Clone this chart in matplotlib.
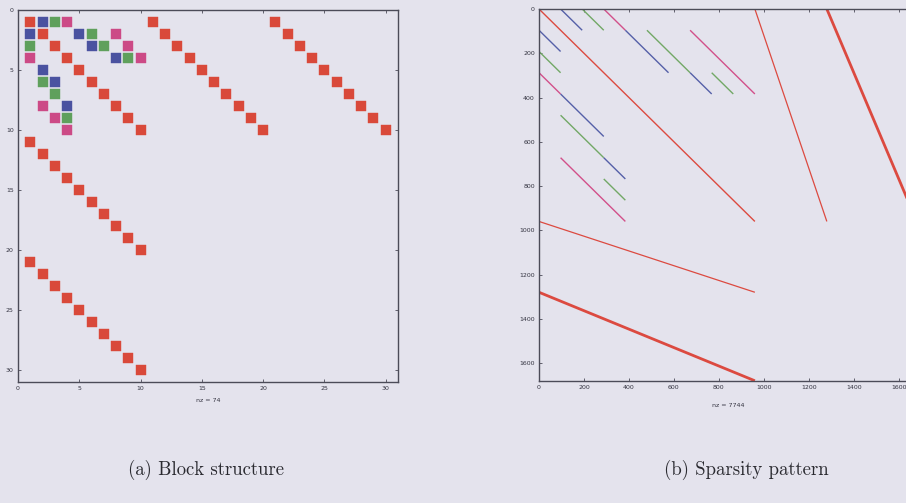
import matplotlib
matplotlib.use("Agg")
import matplotlib.pyplot as plt

# ---- (a) block structure of a 30x30 matrix: (row, col) of each nonzero block ----
red_rows = [1, 2, 3, 4, 5, 6, 7, 8, 9, 10,
            1, 2, 3, 4, 5, 6, 7, 8, 9, 10,
            1, 2, 3, 4, 5, 6, 7, 8, 9, 10,
            11, 12, 13, 14, 15, 16, 17, 18, 19, 20,
            21, 22, 23, 24, 25, 26, 27, 28, 29, 30]
red_cols = [1, 2, 3, 4, 5, 6, 7, 8, 9, 10,
            11, 12, 13, 14, 15, 16, 17, 18, 19, 20,
            21, 22, 23, 24, 25, 26, 27, 28, 29, 30,
            1, 2, 3, 4, 5, 6, 7, 8, 9, 10,
            1, 2, 3, 4, 5, 6, 7, 8, 9, 10]
blue_rows = [1, 2, 2, 5, 3, 6, 4, 8]
blue_cols = [2, 1, 5, 2, 6, 3, 8, 4]
green_rows = [1, 3, 2, 6, 3, 7, 4, 9]
green_cols = [3, 1, 6, 2, 7, 3, 9, 4]
pink_rows = [1, 4, 2, 8, 3, 9, 4, 10]
pink_cols = [4, 1, 8, 2, 9, 3, 10, 4]
nz_small = 74
n_small = 30

# ---- (b) sparsity pattern of the assembled 1680x1680 matrix ----
# each diagonal band: start row, start col, end row, end col
band_color = ["red", "blue", "green", "pink", "blue", "green", "blue", "green", "pink",
              "blue", "green", "pink", "blue", "green", "blue", "green", "pink",
              "red", "red", "red", "red"]
band_r0 = [0, 0, 0, 0, 96, 96, 288, 288, 96,
           96, 192, 288, 384, 480, 672, 768, 672,
           960, 1280, 0, 0]
band_c0 = [0, 96, 192, 288, 384, 480, 672, 768, 672,
           0, 0, 0, 96, 96, 288, 288, 96,
           0, 0, 960, 1280]
band_r1 = [960, 96, 96, 96, 288, 288, 384, 384, 384,
           192, 288, 384, 576, 672, 768, 864, 960,
           1280, 1680, 960, 960]
band_c1 = [960, 192, 288, 384, 576, 672, 768, 864, 960,
           96, 96, 96, 288, 288, 384, 384, 384,
           960, 960, 1280, 1680]
band_width = [1.0, 1.0, 1.0, 1.0, 1.0, 1.0, 1.0, 1.0, 1.0,
              1.0, 1.0, 1.0, 1.0, 1.0, 1.0, 1.0, 1.0,
              0.9, 2.0, 0.9, 2.0]
nz_large = 7744
n_large = 1680

bg = "#e4e3ed"
spine_c = "#4b4b58"
colors = {"red": "#d9493a", "blue": "#4a52a0", "green": "#5fa05c", "pink": "#cc4a86"}
line_colors = {"red": "#dc4a40", "blue": "#5560a8", "green": "#72a866", "pink": "#d2508a"}

W, H = 906, 503
fig = plt.figure(figsize=(W / 100, H / 100), dpi=100, facecolor=bg)


def style_axes(ax):
    ax.set_facecolor(bg)
    for s in ax.spines.values():
        s.set_color(spine_c)
        s.set_linewidth(1.0)
    ax.tick_params(direction="in", length=2.5, width=0.6, color=spine_c,
                   labelsize=4.5, labelcolor="#333340", pad=3,
                   top=True, right=True)


# left panel
ax1 = fig.add_axes([18 / W, 1 - 382 / H, 380 / W, 372.5 / H])
style_axes(ax1)
ms = 6.6
for rows, cols, key in [(red_rows, red_cols, "red"), (blue_rows, blue_cols, "blue"),
                        (green_rows, green_cols, "green"), (pink_rows, pink_cols, "pink")]:
    ax1.plot(cols, rows, linestyle="none", marker="s", markersize=ms,
             markerfacecolor=colors[key], markeredgecolor=colors[key], markeredgewidth=0.3)
ax1.set_xlim(0, n_small + 1)
ax1.set_ylim(n_small + 1, 0)
ax1.set_xticks(range(0, 31, 5))
ax1.set_yticks(range(0, 31, 5))
ax1.set_xlabel(f"nz = {nz_small}", fontsize=4.5, color="#333340", labelpad=5)

# right panel
ax2 = fig.add_axes([539 / W, 1 - 381 / H, 378 / W, 372 / H])
style_axes(ax2)
for k in range(len(band_color)):
    ax2.plot([band_c0[k], band_c1[k]], [band_r0[k], band_r1[k]],
             color=line_colors[band_color[k]], linewidth=band_width[k],
             solid_capstyle="butt")
ax2.set_xlim(0, n_large + 1)
ax2.set_ylim(n_large + 1, 0)
ax2.set_xticks(range(0, 1601, 200))
ax2.set_yticks(range(0, 1601, 200))
ax2.set_xlabel(f"nz = {nz_large}", fontsize=4.5, color="#333340", labelpad=9)

# captions
cap_font = dict(fontsize=13.5, family="cmr10", color="#2a2a30", ha="center", va="center")
fig.text(206 / W, 1 - 470 / H, "(a) Block structure", **cap_font)
fig.text(746 / W, 1 - 470 / H, "(b) Sparsity pattern", **cap_font)

fig.savefig("out.png", dpi=100, facecolor=bg)
